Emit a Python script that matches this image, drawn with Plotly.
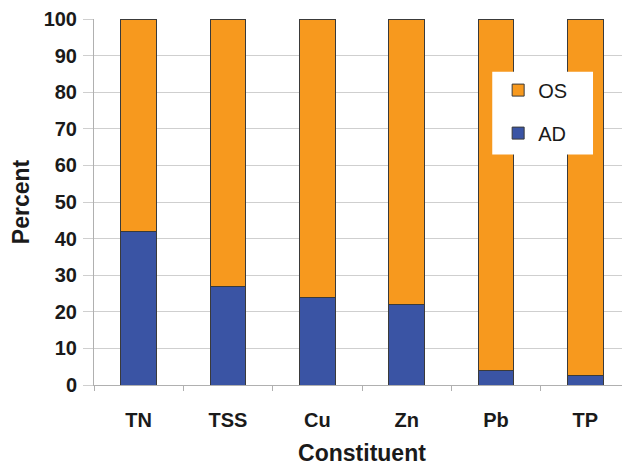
import plotly.graph_objects as go

constituents = ['TN', 'TSS', 'Cu', 'Zn', 'Pb', 'TP']
ad = [42, 27, 24, 22, 4, 2.5]
os_ = [58, 73, 76, 78, 96, 97.5]

ORANGE = '#F7991E'
BLUE = '#3A54A4'
EDGE = '#3a3a3a'

fig = go.Figure()
fig.add_bar(x=constituents, y=ad, name='AD', legendgroup='ad', legendrank=2,
            marker=dict(color=BLUE, line=dict(color=EDGE, width=1)), width=0.4)
fig.add_bar(x=constituents, y=os_, name='OS', legendgroup='os', legendrank=1,
            marker=dict(color=ORANGE, line=dict(color=EDGE, width=1)), width=0.4)

font = 'Liberation Sans, Arial, sans-serif'

fig.update_xaxes(
    showgrid=False,
    showline=True, linecolor='#b0b0b0', linewidth=1,
    ticks='outside', tickson='boundaries', ticklen=5, tickcolor='#b0b0b0',
    ticklabelstandoff=17,
    tickfont=dict(family=font, size=20, color='#1a1a1a', weight='bold'),
    title=dict(text='Constituent', font=dict(family=font, size=23, color='#1a1a1a', weight='bold'), standoff=14),
)
fig.update_yaxes(
    range=[0, 100], dtick=10,
    showgrid=True, gridcolor='#cfcfcf', gridwidth=1,
    showline=True, linecolor='#b0b0b0', linewidth=1,
    ticks='outside', ticklen=10, tickcolor='#cfcfcf',
    ticklabelstandoff=2, ticklabeloverflow='allow',
    tickfont=dict(family=font, size=20, color='#1a1a1a', weight='bold'),
    title=dict(text='Percent', font=dict(family=font, size=23, color='#1a1a1a', weight='bold'), standoff=20),
)

# white legend box (wider than plotly's own legend background)
fig.add_shape(type='rect', xref='paper', yref='paper', layer='above',
              x0=0.743, x1=0.931, y0=0.630, y1=0.856,
              fillcolor='white', line=dict(width=0))

# page body has an 8px margin, so the figure is sized/offset to compensate
fig.update_layout(
    barmode='stack',
    width=622, height=458,
    autosize=False,
    margin=dict(l=85, r=0, t=9, b=81),
    plot_bgcolor='white', paper_bgcolor='white',
    legend=dict(
        x=0.754, y=0.859, xanchor='left', yanchor='top',
        traceorder='grouped',
        bgcolor='rgba(0,0,0,0)', borderwidth=0,
        font=dict(family=font, size=20, color='#1a1a1a'),
        itemwidth=30, tracegroupgap=14,
    ),
    showlegend=True,
)

fig.write_html('out.html')
